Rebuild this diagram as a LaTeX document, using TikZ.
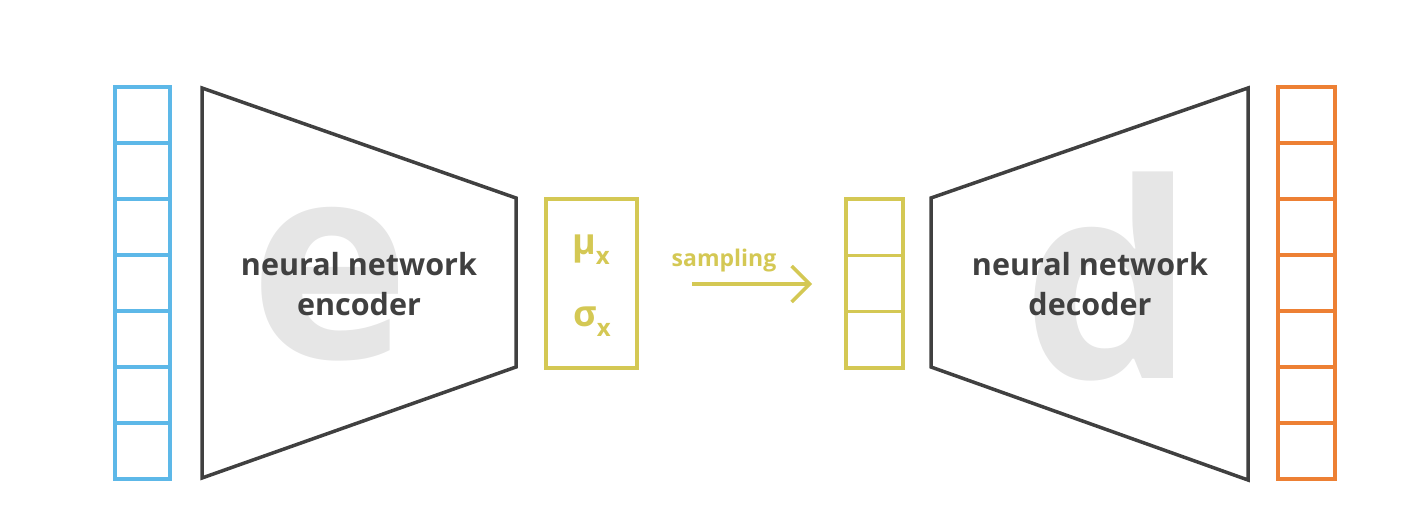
\documentclass[tikz,border=0pt]{standalone}
\usepackage{fontspec}
\setmainfont{Open Sans}
\usetikzlibrary{arrows.meta}
\definecolor{cblue}{RGB}{93,184,232}
\definecolor{corange}{RGB}{237,128,52}
\definecolor{cyel}{RGB}{212,200,84}
\definecolor{cdark}{RGB}{64,64,64}
\definecolor{cghost}{RGB}{230,230,230}
\tikzset{
  cellblue/.style={draw=cblue,line width=3.5pt},
  cellorange/.style={draw=corange,line width=3.5pt},
  cellyel/.style={draw=cyel,line width=3.5pt},
  trap/.style={draw=cdark,line width=3.5pt,line join=miter},
  lbl/.style={text=cdark,font=\fontsize{30.5}{40}\selectfont\bfseries,align=center,inner sep=0pt},
  ghost/.style={text=cghost,font=\fontsize{272}{272}\selectfont\bfseries,inner sep=0pt},
  greek/.style={text=cyel,font=\bfseries,inner sep=0pt}
}
\begin{document}
\begin{tikzpicture}[x=1pt,y=-1pt]
\useasboundingbox (0,0) rectangle (1428,510);
% ghost letters
\node[ghost] (ge) at (330,284) {e};
\node[ghost] (gd) at (1109,277) {d};
% input column
\foreach \i in {0,...,6}{
  \draw[cellblue] (115,{87+56*\i}) rectangle (170,{87+56*(\i+1)});
}
% encoder
\draw[trap] (202,88) -- (516,198) -- (516,367) -- (202,478) -- cycle;
\node[lbl] (enc) at (359,284) {neural network\\encoder};
% latent box
\node[cellyel,minimum width=91pt,minimum height=169pt,inner sep=0pt] (lat) at (591.5,283.5) {};
\node[greek] (mu) at (591,250) {\fontsize{36}{36}\selectfont μ\raisebox{-10pt}{\fontsize{24}{24}\selectfont x}};
\node[greek] (sig) at (592,322) {\fontsize{36}{36}\selectfont σ\raisebox{-10pt}{\fontsize{24}{24}\selectfont x}};
% sampling arrow
\coordinate (a1) at (692,284);
\coordinate (a2) at (812,284);
\draw[draw=cyel,line width=3.5pt,-{Straight Barb[length=18pt,width=36pt,line width=3.5pt]}] (a1) -- (a2);
\node[text=cyel,font=\fontsize{23}{23}\selectfont\bfseries,inner sep=0pt] (samp) at (724,261) {sampling};
% sampled column
\foreach \i in {0,1,2}{
  \draw[cellyel] (846,{199+56.3*\i}) rectangle (903,{199+56.3*(\i+1)});
}
% decoder
\draw[trap] (931,198) -- (1248,88) -- (1248,480) -- (931,367) -- cycle;
\node[lbl] (dec) at (1090,284) {neural network\\decoder};
% output column
\foreach \i in {0,...,6}{
  \draw[cellorange] (1278,{87+56*\i}) rectangle (1335,{87+56*(\i+1)});
}
\end{tikzpicture}
\end{document}
